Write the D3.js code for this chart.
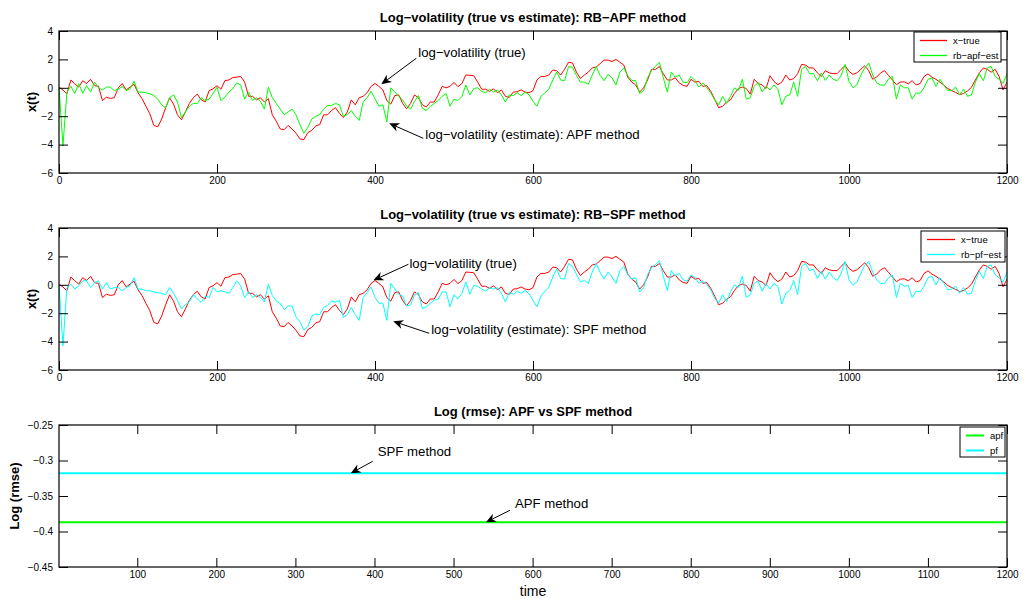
<!DOCTYPE html>
<html><head><meta charset="utf-8">
<script src="https://cdn.jsdelivr.net/npm/d3@7"></script>
<style>
body{margin:0;background:#fff}
svg{display:block}
text{font-family:"Liberation Sans",Arial,Helvetica,sans-serif;fill:#000}
</style>
</head><body>
<svg id="c" width="1029" height="599"></svg>
<script>
// ---------------- data ----------------
const timeStep = 5; // samples below are at t = 0,5,10,...,1200
const xTrue = [
0.05,-0.15,-0.42,0.55,0.28,0.05,0.5,0.3,0.6,0.15,
0.1,-0.9,-0.66,-0.75,-0.7,0.0,0.3,-0.15,0.05,0.25,
-0.35,-0.75,-1.3,-1.83,-2.65,-2.75,-2.2,-1.4,-0.7,-1.15,
-1.9,-2.25,-1.7,-1.1,-0.7,-0.45,-0.85,-1.0,-0.2,-0.07,
0.15,-0.1,0.5,0.55,0.72,0.75,0.8,0.4,-0.6,-0.6,
-0.85,-0.7,-1.0,-0.77,-1.9,-2.35,-2.9,-2.95,-2.65,-2.9,
-3.2,-3.6,-3.65,-3.15,-3.0,-2.68,-2.6,-1.9,-1.9,-1.6,
-1.4,-1.8,-2.1,-1.7,-0.85,-1.2,-0.7,-0.6,-0.35,0.1,
0.3,0.1,-0.15,-0.9,-1.15,-0.55,-0.5,-1.1,-1.48,-1.1,
-0.5,-0.7,-1.2,-1.35,-1.0,-1.0,-0.5,0.1,0.0,0.1,
0.38,0.08,0.3,0.9,0.88,0.85,0.4,-0.1,-0.1,-0.25,
-0.07,-0.35,-0.15,-0.6,-0.68,-0.3,-0.28,-0.15,-0.3,-0.35,
-0.2,0.55,0.8,0.8,0.9,1.25,1.2,0.9,1.3,1.8,
1.75,1.1,0.65,0.9,1.1,1.4,1.46,1.7,1.95,1.95,
1.85,2.0,1.8,1.6,0.75,0.4,0.2,-0.3,0.0,0.55,
1.3,1.3,1.5,0.99,0.55,0.55,0.7,0.35,0.17,0.1,
0.6,0.4,0.45,0.1,0.16,-0.25,-0.8,-1.4,-1.3,-1.0,
-0.85,-0.4,-0.05,0.05,-0.05,-0.45,0.6,0.3,0.2,-0.05,
0.85,0.45,0.22,0.4,0.9,0.55,0.65,1.0,1.65,1.6,
1.4,1.4,1.05,0.8,1.2,1.05,1.0,1.0,1.3,1.57,
1.15,0.95,1.05,1.3,1.55,1.2,0.6,0.75,1.05,1.2,
0.87,0.55,0.22,0.4,0.42,0.28,0.5,0.2,0.3,0.8,
0.98,0.75,0.6,0.4,0.2,-0.05,-0.19,-0.33,-0.48,-0.4,
-0.22,0.03,0.55,1.05,1.4,1.3,1.1,1.3,0.8,-0.15,
0.4];
const rbApfEst = [
0.05,-4.1,-0.3,0.1,-0.4,0.3,-0.4,0.15,-0.3,0.4,
0.0,-0.15,0.05,0.05,-0.2,-0.1,0.1,-0.2,-0.07,0.45,
-0.3,-0.3,-0.35,-0.42,-0.55,-0.8,-1.2,-1.4,-0.7,-0.5,
-1.0,-2.1,-1.7,-1.3,-1.1,-1.1,-0.7,-0.9,-0.8,-0.4,
0.05,-0.9,-0.66,-0.3,-0.07,0.35,0.2,-0.8,-0.3,-0.89,
-0.7,-0.95,-1.5,0.05,-0.7,-1.1,-1.5,-1.9,-1.7,-1.5,
-1.9,-2.6,-3.2,-2.8,-2.2,-2.0,-1.9,-1.5,-1.25,-1.24,
-1.1,-1.2,-2.0,-1.9,-1.6,-2.0,-2.3,-1.0,-0.7,-0.25,
-0.77,-1.3,-1.2,-2.4,0.0,-0.3,-0.6,-0.85,-1.3,-1.5,
-0.95,-0.55,-1.45,-1.6,-1.3,-1.1,-0.9,-0.6,-0.4,-1.3,
-0.8,-0.9,-0.6,0.2,-0.5,-0.05,0.0,-0.25,-0.35,-0.1,
-0.3,-0.15,-0.5,-1.0,-0.5,-0.54,-0.35,-0.55,-0.3,-0.5,
-0.95,-1.3,-0.6,-0.35,-0.1,0.55,1.1,0.55,0.5,1.5,
1.45,0.87,0.4,0.4,0.25,0.9,1.5,0.87,0.5,0.95,
0.7,0.2,1.1,1.4,0.85,0.52,0.5,-0.4,-0.2,0.7,
1.22,1.5,1.8,0.7,-0.3,1.1,0.75,0.9,0.4,0.35,
0.8,0.52,0.05,0.35,0.0,-0.35,-0.85,-1.2,-0.6,-1.1,
-0.6,0.0,-0.19,0.6,-0.8,-0.7,0.1,0.38,-0.3,0.1,
-0.15,0.2,-0.1,-1.2,-0.6,-0.5,0.4,-0.6,1.3,1.5,
1.0,1.0,0.5,1.05,0.52,0.9,0.6,0.5,0.85,1.65,
0.45,0.0,0.2,0.9,1.4,1.75,0.9,0.35,0.2,0.18,
0.63,0.8,-0.8,0.2,0.0,0.0,-0.8,-0.35,-0.4,0.0,
0.6,0.7,0.1,0.6,0.2,-0.2,-0.2,0.05,-0.5,-0.1,
-0.6,-0.5,0.4,1.0,0.5,1.4,1.5,0.8,0.6,0.3,
1.0];
const rbPfEst = [
0.05,-4.3,-0.2,0.05,-0.3,-0.07,0.28,0.28,-0.19,0.16,
0.28,-0.3,0.16,-0.3,-0.19,-0.19,-0.42,-0.19,-0.07,0.5,
-0.3,-0.3,-0.42,-0.42,-0.5,-0.55,-0.6,-0.7,-0.19,-0.6,
-1.1,-1.7,-1.4,-1.2,-0.7,-1.0,-1.24,-0.8,-0.9,-0.19,
-0.5,-0.42,-0.5,-0.6,-0.2,0.28,-0.07,-0.9,-0.5,-0.89,
-0.7,-0.9,-1.2,0.05,-0.75,-1.15,-1.3,-1.75,-1.48,-1.5,
-2.25,-2.6,-3.2,-2.95,-2.2,-2.05,-2.1,-1.6,-1.45,-1.13,
-1.22,-1.1,-2.3,-2.1,-1.6,-2.1,-2.5,-0.9,-0.55,-0.15,
-0.89,-1.3,-1.3,-2.5,0.1,-0.3,-0.66,-0.8,-1.5,-1.4,
-0.7,-0.55,-1.68,-1.55,-1.3,-1.1,-1.0,-0.5,-0.5,-1.55,
-0.7,-1.0,-0.6,0.2,-0.66,-0.05,-0.1,-0.3,-0.45,-0.2,
-0.3,-0.2,-0.6,-1.2,-0.55,-0.66,-0.45,-0.6,-0.4,-0.62,
-1.1,-1.55,-0.8,-0.45,-0.2,0.55,1.1,0.45,0.4,1.5,
1.3,0.75,0.2,0.3,0.1,0.9,1.5,0.87,0.4,0.9,
0.55,0.1,1.0,1.3,0.7,0.4,0.5,-0.5,-0.2,0.7,
1.22,1.4,1.7,0.6,-0.4,1.0,0.63,0.8,0.35,0.25,
0.7,0.52,0.1,0.3,0.0,-0.35,-0.95,-1.3,-0.7,-1.2,
-0.5,0.0,-0.19,0.6,-0.9,-0.7,0.1,0.25,-0.45,0.1,
-0.3,0.1,-0.1,-1.36,-0.6,-0.4,0.3,-0.7,1.3,1.5,
1.0,1.1,0.45,0.95,0.4,0.9,0.5,0.3,0.8,1.65,
0.35,0.0,0.2,0.8,1.4,1.65,0.9,0.35,0.1,0.1,
0.5,0.7,-0.9,0.1,-0.1,-0.05,-0.9,-0.45,-0.5,-0.1,
0.5,0.6,0.0,0.5,0.1,-0.35,-0.3,-0.1,-0.6,-0.2,
-0.66,-0.6,0.3,0.95,0.45,1.3,1.4,0.7,0.5,0.2,
0.9];
const rmseTime = [1, 1200];
const rmseApf = [-0.387, -0.387];
const rmsePf = [-0.318, -0.318];

const xTicksTop = [0,200,400,600,800,1000,1200];
const yTicksTop = [4,2,0,-2,-4,-6];
const xTicksBottom = [100,200,300,400,500,600,700,800,900,1000,1100,1200];
const yTicksBottom = [-0.25,-0.3,-0.35,-0.4,-0.45];

const titles = ["Log\u2212volatility (true vs estimate): RB\u2212APF method",
                "Log\u2212volatility (true vs estimate): RB\u2212SPF method",
                "Log (rmse): APF vs SPF method"];
const yLabels = ["x(t)", "x(t)", "Log (rmse)"];
const xLabel = "time";
const legendTop = ["x\u2212true", "rb\u2212apf\u2212est"];
const legendMid = ["x\u2212true", "rb\u2212pf\u2212est"];
const legendBottom = ["apf", "pf"];
const colors = {red:"#ff0000", green:"#00ff00", cyan:"#00ffff"};

// annotation arrows: head point in data units; tail and text offsets in px
const annTop = [
  {text:"log\u2212volatility (true)", hx:408, hy:0.25, dx:35, dy:-26, ox:37, oy:-32},
  {text:"log\u2212volatility (estimate): APF method", hx:418, hy:-2.5, dx:34, dy:15, ox:36, oy:11}
];
const annMid = [
  {text:"log\u2212volatility (true)", hx:398, hy:0.32, dx:35, dy:-16, ox:36, oy:-17},
  {text:"log\u2212volatility (estimate): SPF method", hx:423, hy:-2.57, dx:36, dy:12, ox:38, oy:8}
];
const annBottom = [
  {text:"SPF method", hx:370, hy:-0.318, dx:22, dy:-12, ox:27, oy:-22},
  {text:"APF method", hx:541, hy:-0.387, dx:24, dy:-12, ox:29, oy:-19}
];

// ---------------- drawing ----------------
const svg = d3.select("#c");
const L = 59, R = 1007;
const boxes = [{top:31, bottom:173}, {top:228, bottom:370}, {top:425, bottom:567}];
const tickLen = 9;

function drawArrow(g, x1, y1, x2, y2) {
  const dx = x2 - x1, dy = y2 - y1, len = Math.hypot(dx, dy);
  const ux = dx/len, uy = dy/len, px = -uy, py = ux;
  const hl = 10, hw = 4.5, notch = 7;
  const bx = x2 - ux*hl, by = y2 - uy*hl, nx = x2 - ux*notch, ny = y2 - uy*notch;
  g.append("line").attr("x1",x1).attr("y1",y1).attr("x2",nx).attr("y2",ny)
    .attr("stroke","#000").attr("stroke-width",1);
  g.append("path").attr("d",`M${x2},${y2}L${bx+px*hw},${by+py*hw}L${nx},${ny}L${bx-px*hw},${by-py*hw}Z`)
    .attr("fill","#000");
}

function panel(i, opts) {
  const b = boxes[i];
  const x = d3.scaleLinear().domain(opts.xDomain).range([L, R]);
  const y = d3.scaleLinear().domain(opts.yDomain).range([b.bottom, b.top]);
  const g = svg.append("g");

  const clip = "clip"+i;
  svg.append("clipPath").attr("id",clip).append("rect")
    .attr("x",L).attr("y",b.top).attr("width",R-L).attr("height",b.bottom-b.top);
  const sg = g.append("g").attr("clip-path",`url(#${clip})`);
  opts.series.forEach(s => {
    const line = d3.line().x((d,k)=>x(s.t[k])).y(d=>y(d));
    sg.append("path").datum(s.v).attr("d",line).attr("fill","none")
      .attr("stroke",s.color).attr("stroke-width",s.width).attr("stroke-linejoin","round");
  });

  const ax = g.append("g").attr("transform",`translate(0,${b.bottom})`)
    .call(d3.axisBottom(x).tickValues(opts.xTicks).tickSizeInner(-tickLen).tickSizeOuter(0).tickPadding(4).tickFormat(d3.format("d")));
  const axT = g.append("g").attr("transform",`translate(0,${b.top})`)
    .call(d3.axisTop(x).tickValues(opts.xTicks).tickSizeInner(-tickLen).tickSizeOuter(0).tickFormat(""));
  const ay = g.append("g").attr("transform",`translate(${L},0)`)
    .call(d3.axisLeft(y).tickValues(opts.yTicks).tickSizeInner(-tickLen).tickSizeOuter(0).tickPadding(6).tickFormat(opts.yFmt));
  const ayR = g.append("g").attr("transform",`translate(${R},0)`)
    .call(d3.axisRight(y).tickValues(opts.yTicks).tickSizeInner(-tickLen).tickSizeOuter(0).tickFormat(""));
  [ax, axT, ay, ayR].forEach(a => {
    a.select(".domain").remove();
    a.selectAll(".tick line").attr("stroke","#000").attr("stroke-width",1);
    a.selectAll(".tick text").style("font-size","10px").attr("fill","#000")
      .style("font-family","'Liberation Sans',Arial,sans-serif");
  });
  g.append("rect").attr("x",L).attr("y",b.top).attr("width",R-L).attr("height",b.bottom-b.top)
    .attr("fill","none").attr("stroke","#000").attr("stroke-width",1.2);

  g.append("text").attr("x",(L+R)/2).attr("y",b.top-9).attr("text-anchor","middle")
    .style("font-size","13px").style("font-weight","bold").text(opts.title);
  g.append("text").attr("transform",`translate(${opts.yLabelX},${(b.top+b.bottom)/2}) rotate(-90)`)
    .attr("text-anchor","middle").style("font-size","13px").style("font-weight","bold").text(opts.yLabel);

  opts.ann.forEach(a => {
    const hx = x(a.hx), hy = y(a.hy);
    drawArrow(g, hx + a.dx, hy + a.dy, hx, hy);
    g.append("text").attr("x",hx + a.ox).attr("y",hy + a.oy).attr("dy","0.35em")
      .style("font-size","13.2px").text(a.text);
  });

  const lg = opts.legend;
  const lgG = g.append("g");
  lgG.append("rect").attr("x",lg.x).attr("y",lg.y).attr("width",lg.w).attr("height",lg.h)
    .attr("fill","#fff").attr("stroke","#000").attr("stroke-width",1);
  lg.items.forEach((it,k) => {
    const cy = Math.round(lg.y + lg.h*(k+0.5)/lg.items.length) + 0.5;
    lgG.append("line").attr("x1",lg.x+6).attr("x2",lg.x+6+lg.lineW).attr("y1",cy).attr("y2",cy)
      .attr("stroke",it.color).attr("stroke-width",it.width);
    lgG.append("text").attr("x",lg.x+12+lg.lineW).attr("y",cy).attr("dy","0.35em")
      .style("font-size","9.5px").text(it.label);
  });
  return {x, y, g};
}

const tGrid = d3.range(0, 1201, timeStep);

panel(0, {
  xDomain:[0,1200], yDomain:[-6,4], xTicks:xTicksTop, yTicks:yTicksTop, yFmt:d3.format("d"),
  title:titles[0], yLabel:yLabels[0], yLabelX:36,
  series:[{t:tGrid, v:xTrue, color:colors.red, width:1},
          {t:tGrid, v:rbApfEst, color:colors.green, width:1}],
  ann:annTop,
  legend:{x:914, y:32, w:87, h:30, lineW:27, items:[
    {label:legendTop[0], color:colors.red, width:1.3},
    {label:legendTop[1], color:colors.green, width:1.3}]}
});
panel(1, {
  xDomain:[0,1200], yDomain:[-6,4], xTicks:xTicksTop, yTicks:yTicksTop, yFmt:d3.format("d"),
  title:titles[1], yLabel:yLabels[1], yLabelX:36,
  series:[{t:tGrid, v:xTrue, color:colors.red, width:1},
          {t:tGrid, v:rbPfEst, color:colors.cyan, width:1}],
  ann:annMid,
  legend:{x:921, y:231, w:84, h:31, lineW:28, items:[
    {label:legendMid[0], color:colors.red, width:1.3},
    {label:legendMid[1], color:colors.cyan, width:1.3}]}
});
panel(2, {
  xDomain:[1,1200], yDomain:[-0.45,-0.25], xTicks:xTicksBottom, yTicks:yTicksBottom, yFmt:d3.format(""),
  title:titles[2], yLabel:yLabels[2], yLabelX:19,
  series:[{t:rmseTime, v:rmseApf, color:colors.green, width:2},
          {t:rmseTime, v:rmsePf, color:colors.cyan, width:2}],
  ann:annBottom,
  legend:{x:960, y:427, w:45, h:30, lineW:18, items:[
    {label:legendBottom[0], color:colors.green, width:2},
    {label:legendBottom[1], color:colors.cyan, width:2}]}
});
svg.append("text").attr("x",(L+R)/2).attr("y",596).attr("text-anchor","middle")
  .style("font-size","14px").text(xLabel);
</script>
</body></html>
